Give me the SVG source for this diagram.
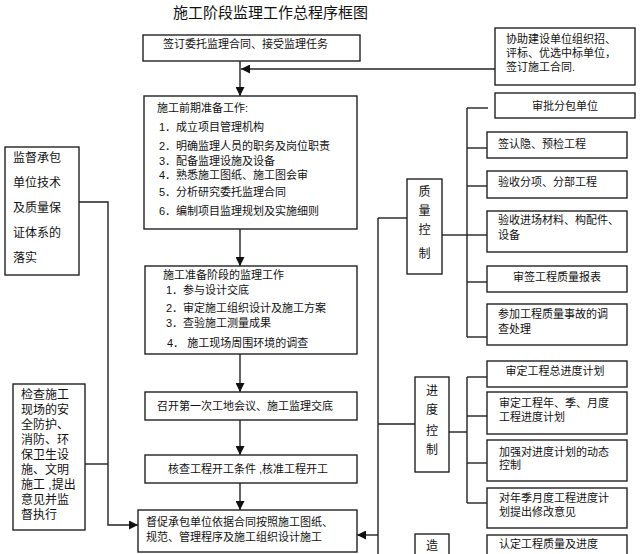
<svg xmlns="http://www.w3.org/2000/svg" width="641" height="554" viewBox="0 0 641 554">
<style>
.box{fill:#fff;stroke:#222;stroke-width:1.4}
.t{font-family:"Liberation Sans","Noto Sans CJK SC",sans-serif;font-size:11px;fill:#111}
.v{font-family:"Liberation Sans","Noto Sans CJK SC",sans-serif;font-size:12px;fill:#111;text-anchor:middle}
.l{font-family:"Liberation Sans","Noto Sans CJK SC",sans-serif;font-size:12px;fill:#111}
.c{text-anchor:middle}
.ln{stroke:#222;stroke-width:1.4;fill:none}
.title{font-family:"Liberation Serif","Noto Sans CJK SC",serif;font-size:15px;fill:#111}
</style>
<defs>
<marker id="ah" viewBox="0 0 10 10" refX="10" refY="5" markerWidth="9" markerHeight="9" markerUnits="userSpaceOnUse" orient="auto"><path d="M0,0 L10,5 L0,10 z" fill="#111"/></marker>
</defs>
<rect width="641" height="554" fill="#fff"/>
<text class="title" x="173" y="18">施工阶段监理工作总程序框图</text>

<g id="connectors">
<line class="ln" x1="240" y1="61" x2="240" y2="96" marker-end="url(#ah)"/>
<line class="ln" x1="495" y1="69" x2="241" y2="69" marker-end="url(#ah)"/>
<line class="ln" x1="240" y1="229" x2="240" y2="266" marker-end="url(#ah)"/>
<line class="ln" x1="240" y1="354" x2="240" y2="392" marker-end="url(#ah)"/>
<line class="ln" x1="240" y1="420" x2="240" y2="455" marker-end="url(#ah)"/>
<line class="ln" x1="240" y1="483" x2="240" y2="510" marker-end="url(#ah)"/>
<polyline class="ln" points="79,202 108,202 108,525 138,525" marker-end="url(#ah)"/>
<line class="ln" x1="85" y1="464" x2="108" y2="464"/>
<line class="ln" x1="378" y1="218" x2="378" y2="554"/>
<line class="ln" x1="378" y1="218" x2="407" y2="218"/>
<line class="ln" x1="378" y1="424" x2="415" y2="424"/>
<line class="ln" x1="378" y1="535" x2="357" y2="535" marker-end="url(#ah)"/>
<line class="ln" x1="442" y1="235" x2="467" y2="235"/>
<line class="ln" x1="467" y1="108" x2="467" y2="337"/>
<line class="ln" x1="467" y1="108" x2="488" y2="108"/>
<line class="ln" x1="467" y1="148" x2="487" y2="148"/>
<line class="ln" x1="467" y1="186" x2="487" y2="186"/>
<line class="ln" x1="467" y1="235" x2="487" y2="235"/>
<line class="ln" x1="467" y1="282" x2="487" y2="282"/>
<line class="ln" x1="467" y1="337" x2="487" y2="337"/>
<line class="ln" x1="449" y1="432" x2="467" y2="432"/>
<line class="ln" x1="467" y1="377" x2="467" y2="503"/>
<line class="ln" x1="467" y1="377" x2="487" y2="377"/>
<line class="ln" x1="467" y1="416" x2="487" y2="416"/>
<line class="ln" x1="467" y1="463" x2="487" y2="463"/>
<line class="ln" x1="467" y1="503" x2="487" y2="503"/>
</g>

<g id="n1"><rect class="box" x="143" y="35" width="217" height="26"/><text class="t" x="163" y="48">签订委托监理合同、接受监理任务</text></g>
<g id="n2"><rect class="box" x="495" y="28" width="140" height="57"/>
<text class="t" x="506" y="43">协助建设单位组织招、</text>
<text class="t" x="506" y="57">评标、优选中标单位，</text>
<text class="t" x="506" y="71">签订施工合同.</text></g>
<g id="n3"><rect class="box" x="144" y="96" width="213" height="133"/>
<text class="t" x="157" y="112">施工前期准备工作:</text>
<text class="t" x="159" y="131">1．成立项目管理机构</text>
<text class="t" x="159" y="150">2．明确监理人员的职务及岗位职责</text>
<text class="t" x="159" y="165">3．配备监理设施及设备</text>
<text class="t" x="159" y="179">4．熟悉施工图纸、施工图会审</text>
<text class="t" x="159" y="196">5．分析研究委托监理合同</text>
<text class="t" x="159" y="215">6．编制项目监理规划及实施细则</text></g>
<g id="n4"><rect class="box" x="145" y="266" width="212" height="88"/>
<text class="t" x="163" y="279">施工准备阶段的监理工作</text>
<text class="t" x="166" y="294">1．参与设计交底</text>
<text class="t" x="166" y="312">2．审定施工组织设计及施工方案</text>
<text class="t" x="166" y="327">3．查验施工测量成果</text>
<text class="t" x="167" y="347">4． 施工现场周围环境的调查</text></g>
<g id="n5"><rect class="box" x="145" y="392" width="212" height="28"/><text class="t" x="157" y="410">召开第一次工地会议、施工监理交底</text></g>
<g id="n6"><rect class="box" x="145" y="455" width="212" height="28"/><text class="t" x="168" y="473">核查工程开工条件 ,核准工程开工</text></g>
<g id="n7"><rect class="box" x="138" y="510" width="219" height="42"/>
<text class="t" x="146" y="526">督促承包单位依据合同按照施工图纸、</text>
<text class="t" x="146" y="541">规范、管理程序及施工组织设计施工</text></g>
<g id="n8"><rect class="box" x="5" y="147" width="74" height="128"/>
<text class="l" x="13" y="162">监督承包</text>
<text class="l" x="13" y="187">单位技术</text>
<text class="l" x="13" y="212">及质量保</text>
<text class="l" x="13" y="237">证体系的</text>
<text class="l" x="13" y="262">落实</text></g>
<g id="n9"><rect class="box" x="13" y="384" width="72" height="146"/>
<text class="l" x="21" y="399">检查施工</text>
<text class="l" x="21" y="414">现场的安</text>
<text class="l" x="21" y="429">全防护、</text>
<text class="l" x="21" y="444">消防、环</text>
<text class="l" x="21" y="459">保卫生设</text>
<text class="l" x="21" y="474">施、文明</text>
<text class="l" x="21" y="489">施工 ,提出</text>
<text class="l" x="21" y="504">意见并监</text>
<text class="l" x="21" y="519">督执行</text></g>
<g id="n10"><rect class="box" x="407" y="179" width="35" height="95"/>
<text class="v" x="424.5" y="196">质</text>
<text class="v" x="424.5" y="215">量</text>
<text class="v" x="424.5" y="234">控</text>
<text class="v" x="424.5" y="258">制</text></g>
<g id="n11"><rect class="box" x="495" y="93" width="140" height="25"/><text class="t c" x="565" y="110">审批分包单位</text></g>
<g id="n12"><rect class="box" x="487" y="132" width="140" height="26"/><text class="t" x="498" y="148">签认隐、预检工程</text></g>
<g id="n13"><rect class="box" x="487" y="171" width="140" height="27"/><text class="t" x="498" y="186">验收分项、分部工程</text></g>
<g id="n14"><rect class="box" x="487" y="211" width="140" height="41"/>
<text class="t" x="498" y="224">验收进场材料、构配件、</text>
<text class="t" x="498" y="239">设备</text></g>
<g id="n15"><rect class="box" x="487" y="266" width="140" height="26"/><text class="t c" x="557" y="281">审签工程质量报表</text></g>
<g id="n16"><rect class="box" x="487" y="304" width="140" height="41"/>
<text class="t" x="498" y="318">参加工程质量事故的调</text>
<text class="t" x="498" y="333">查处理</text></g>
<g id="n17"><rect class="box" x="415" y="377" width="34" height="95"/>
<text class="v" x="432" y="395">进</text>
<text class="v" x="432" y="414">度</text>
<text class="v" x="432" y="435">控</text>
<text class="v" x="432" y="454">制</text></g>
<g id="n18"><rect class="box" x="487" y="361" width="140" height="26"/><text class="t c" x="555" y="375">审定工程总进度计划</text></g>
<g id="n19"><rect class="box" x="487" y="392" width="140" height="42"/>
<text class="t" x="499" y="407">审定工程年、季、月度</text>
<text class="t" x="499" y="421">工程进度计划</text></g>
<g id="n20"><rect class="box" x="487" y="440" width="140" height="41"/>
<text class="t" x="499" y="456">加强对进度计划的动态</text>
<text class="t" x="499" y="469">控制</text></g>
<g id="n21"><rect class="box" x="487" y="488" width="140" height="40"/>
<text class="t" x="499" y="502">对年季月度工程进度计</text>
<text class="t" x="499" y="516">划提出修改意见</text></g>
<g id="n22"><rect class="box" x="415" y="534" width="34" height="30"/><text class="v" x="432" y="550">造</text></g>
<g id="n23"><rect class="box" x="487" y="535" width="140" height="30"/><text class="t" x="499" y="548">认定工程质量及进度</text></g>
</svg>
